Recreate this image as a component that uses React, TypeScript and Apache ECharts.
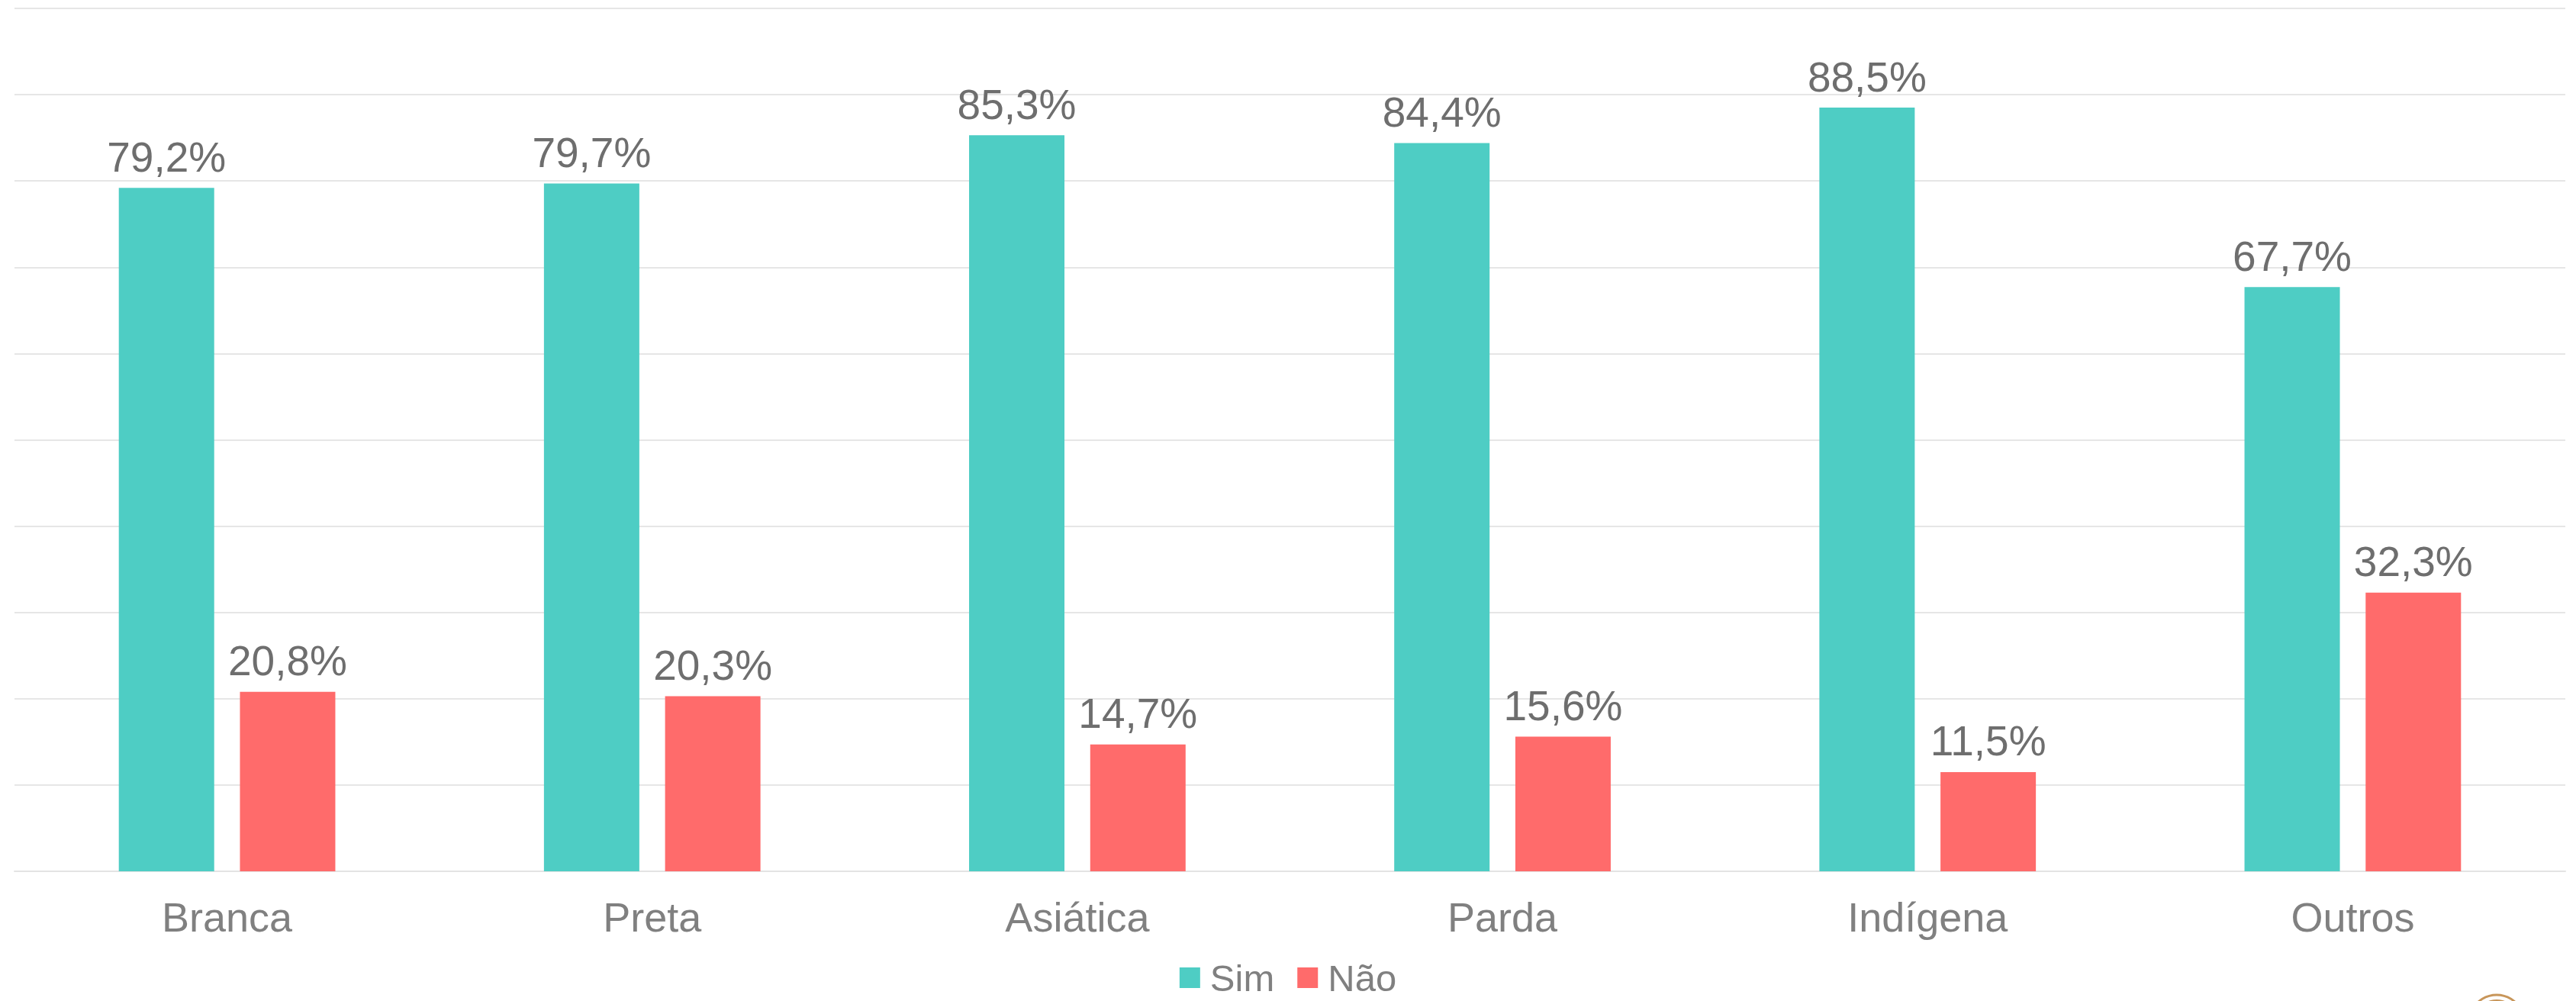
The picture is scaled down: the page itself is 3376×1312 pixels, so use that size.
import React, { useEffect, useRef } from "react";
import * as echarts from "echarts";

const categories = ["Branca", "Preta", "Asiática", "Parda", "Indígena", "Outros"];
const simValues = [79.2, 79.7, 85.3, 84.4, 88.5, 67.7];
const naoValues = [20.8, 20.3, 14.7, 15.6, 11.5, 32.3];
const seriesNames = ["Sim", "Não"];

const FONT = "'Liberation Sans', Arial, Helvetica, sans-serif";
const fmt = (p: any) => Number(p.value).toFixed(1).replace(".", ",") + "%";

export default function App() {
  const ref = useRef<HTMLDivElement>(null);
  useEffect(() => {
    document.body.style.margin = "0";
    const chart = echarts.init(ref.current!, null, { renderer: "svg" });
    const labelStyle = {
      show: true,
      position: "top",
      distance: 13,
      formatter: fmt,
      fontSize: 55,
      fontFamily: FONT,
      color: "#6e6e6e",
    };
    chart.setOption({
      animation: false,
      backgroundColor: "#ffffff",
      textStyle: { fontFamily: FONT },
      grid: { left: 19, right: 14, top: 11, bottom: 170, containLabel: false },
      legend: {
        data: seriesNames,
        top: 1252,
        left: "center",
        icon: "rect",
        itemWidth: 27,
        itemHeight: 27,
        itemGap: 30,
        textStyle: {
          fontSize: 49,
          lineHeight: 44,
          color: "#808080",
          fontFamily: FONT,
          padding: [0, 0, 0, 8],
        },
      },
      xAxis: {
        type: "category",
        data: categories,
        axisLine: { show: true, lineStyle: { color: "#e3e3e3", width: 2 } },
        axisTick: { show: false },
        axisLabel: { fontSize: 54, color: "#808080", margin: 33, fontFamily: FONT },
      },
      yAxis: {
        type: "value",
        min: 0,
        max: 100,
        interval: 10,
        axisLabel: { show: false },
        axisLine: { show: false },
        axisTick: { show: false },
        splitLine: { show: true, lineStyle: { color: "#e6e6e6", width: 2 } },
      },
      series: [
        {
          name: seriesNames[0],
          type: "bar",
          data: simValues,
          barWidth: 125,
          barGap: "27%",
          itemStyle: { color: "#4ECDC4" },
          label: labelStyle,
        },
        {
          name: seriesNames[1],
          type: "bar",
          data: naoValues,
          barWidth: 125,
          barGap: "27%",
          itemStyle: { color: "#FF6B6B" },
          label: labelStyle,
        },
      ],
      graphic: [
        {
          type: "arc",
          shape: { cx: 3272, cy: 1340, r: 36, startAngle: Math.PI * 1.15, endAngle: Math.PI * 1.85 },
          style: { stroke: "#C8965A", lineWidth: 3, fill: "none" },
        },
        {
          type: "circle",
          shape: { cx: 3272, cy: 1340, r: 30 },
          style: { fill: "#C8965A" },
        },
      ],
    });
    return () => chart.dispose();
  }, []);
  return <div ref={ref} style={{ width: 3376, height: 1312 }} />;
}
